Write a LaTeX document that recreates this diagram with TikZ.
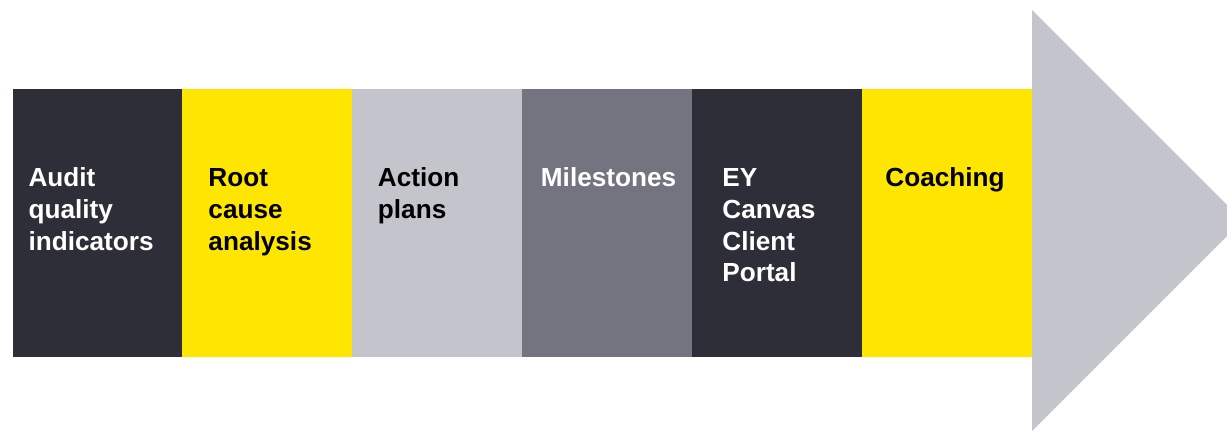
\documentclass[tikz,border=0pt]{standalone}
\usepackage{fontspec}
\setmainfont{Liberation Sans}
\usepackage{tikz}
\usetikzlibrary{positioning}
\definecolor{eydark}{HTML}{2E2E38}
\definecolor{eyyellow}{HTML}{FFE600}
\definecolor{eylight}{HTML}{C4C4CD}
\definecolor{eymid}{HTML}{747480}
\tikzstyle{stage} = [rectangle, inner sep=0pt, minimum width=3.4cm, minimum height=5.36cm, node distance=3.4cm]
\tikzstyle{lbl} = [anchor=north west, inner sep=0pt, align=left, font=\fontsize{14.9}{18.1}\selectfont\bfseries]

\begin{document}
\begin{tikzpicture}[x=0.02cm, y=-0.02cm]
    \clip (0,0) rectangle (1227,431);
    \node[stage, fill=eydark] (aqi) at (97.5,223) {};
    \node[stage, fill=eyyellow, right of=aqi] (rca) {};
    \node[stage, fill=eylight, right of=rca] (plans) {};
    \node[stage, fill=eymid, right of=plans] (miles) {};
    \node[stage, fill=eydark, right of=miles] (portal) {};
    \node[stage, fill=eyyellow, right of=portal] (coach) {};
    % arrow head
    \fill[eylight] (1032,10) -- (1242.5,220.5) -- (1032,431) -- cycle;
    \node[lbl, text=white] (aqi-t) at ([xshift=.32cm, yshift=-1.57cm]aqi.north west) {Audit\\quality\\indicators};
    \node[lbl, text=black] (rca-t) at ([xshift=.52cm, yshift=-1.57cm]rca.north west) {\vphantom{d}Root\\cause\\analysis};
    \node[lbl, text=black] (plans-t) at ([xshift=.51cm, yshift=-1.57cm]plans.north west) {Action\\plans};
    \node[lbl, text=white] (miles-t) at ([xshift=.37cm, yshift=-1.57cm]miles.north west) {Milestones};
    \node[lbl, text=white] (portal-t) at ([xshift=.6cm, yshift=-1.57cm]portal.north west) {\vphantom{d}EY\\Canvas\\Client\\Portal};
    \node[lbl, text=black] (coach-t) at ([xshift=.46cm, yshift=-1.57cm]coach.north west) {Coaching};
\end{tikzpicture}
\end{document}
